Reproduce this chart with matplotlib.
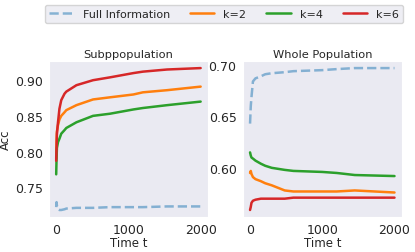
import numpy as np
import matplotlib
matplotlib.use("Agg")
import matplotlib.pyplot as plt
import seaborn as sns

# values
t_sub = [0, 5, 10, 25, 45, 70, 115, 140, 280, 510, 745, 1070, 1200, 1535, 2000]
sub_full = [0.722, 0.729, 0.724, 0.719, 0.718, 0.718, 0.719, 0.720, 0.721, 0.721, 0.722, 0.722, 0.722, 0.723, 0.723]
sub_k2 = [0.790, 0.815, 0.828, 0.837, 0.845, 0.850, 0.855, 0.858, 0.865, 0.873, 0.876, 0.880, 0.883, 0.886, 0.891]
sub_k4 = [0.768, 0.790, 0.805, 0.813, 0.818, 0.825, 0.830, 0.833, 0.841, 0.850, 0.853, 0.859, 0.861, 0.865, 0.870]
sub_k6 = [0.787, 0.805, 0.825, 0.841, 0.860, 0.872, 0.881, 0.884, 0.893, 0.900, 0.904, 0.910, 0.912, 0.915, 0.917]

t_whole = [0, 10, 20, 40, 75, 150, 210, 300, 480, 600, 1000, 1200, 1450, 2000]
whole_full = [0.643, 0.660, 0.669, 0.684, 0.687, 0.689, 0.691, 0.692, 0.693, 0.694, 0.695, 0.696, 0.697, 0.697]
whole_k2 = [0.595, 0.597, 0.594, 0.591, 0.589, 0.587, 0.585, 0.583, 0.578, 0.577, 0.577, 0.577, 0.578, 0.576]
whole_k4 = [0.615, 0.612, 0.610, 0.609, 0.607, 0.604, 0.602, 0.600, 0.598, 0.597, 0.596, 0.595, 0.593, 0.592]
whole_k6 = [0.559, 0.562, 0.566, 0.568, 0.569, 0.570, 0.570, 0.570, 0.570, 0.571, 0.571, 0.571, 0.571, 0.571]

labels = ["Full Information", "k=2", "k=4", "k=6"]

sns.set_style("dark")
plt.rcParams['font.family'] = ['DejaVu Sans']

fig, axes = plt.subplots(1, 2, figsize=(4.15, 2.53), dpi=100)
fig.subplots_adjust(left=0.118, right=0.968, top=0.755, bottom=0.138, wspace=0.22)

def draw(ax, t, full, k2, k4, k6):
    ax.plot(t, full, color="tab:blue", alpha=0.5, ls="--", lw=1.8, label=labels[0])
    ax.plot(t, k2, color="tab:orange", lw=1.8, label=labels[1])
    ax.plot(t, k4, color="tab:green", lw=1.8, label=labels[2])
    ax.plot(t, k6, color="tab:red", lw=1.8, label=labels[3])
    ax.tick_params(labelsize=9, pad=1)
    ax.set_xlabel("Time t", fontsize=8.5, labelpad=0)
    ax.set_xticks([0, 1000, 2000])

draw(axes[0], t_sub, sub_full, sub_k2, sub_k4, sub_k6)
draw(axes[1], t_whole, whole_full, whole_k2, whole_k4, whole_k6)

axes[0].set_title("Subppopulation", fontsize=8.2, pad=3)
axes[1].set_title("Whole Population", fontsize=8.2, pad=3)
axes[0].set_ylabel("Acc", fontsize=8.5, labelpad=2)
axes[0].set_yticks([0.75, 0.80, 0.85, 0.90])
axes[1].set_yticks([0.60, 0.65, 0.70])

h, l = axes[0].get_legend_handles_labels()
fig.legend(h, l, loc="upper center", ncol=4, fontsize=8, bbox_to_anchor=(0.54, 1.0),
           handlelength=2.2, columnspacing=1.8, frameon=True)

plt.savefig("out.png")
